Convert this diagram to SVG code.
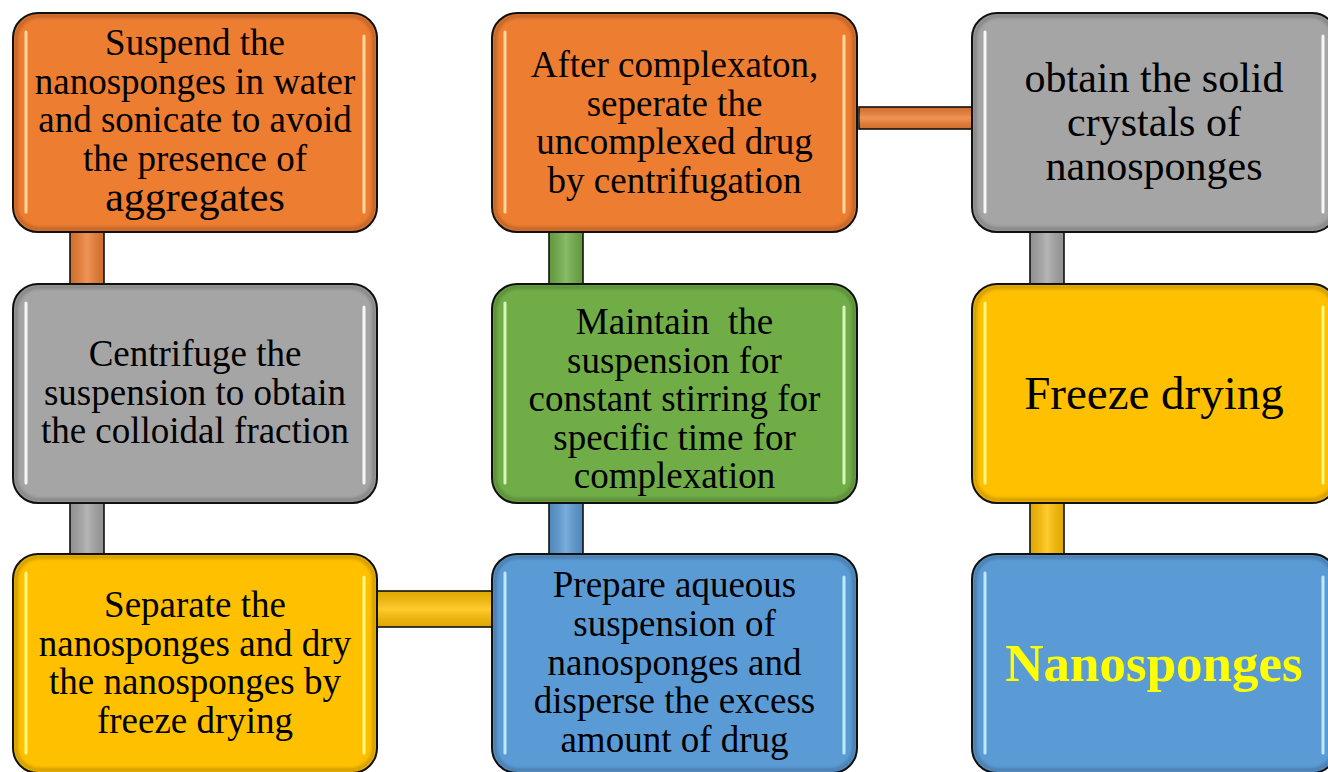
<svg xmlns="http://www.w3.org/2000/svg" width="1328" height="772" viewBox="0 0 1328 772">
<style>
.box{stroke:#111;stroke-width:2}
.edge{fill:none;stroke:#000;stroke-opacity:0.18;stroke-width:4;filter:url(#soft)}
.hl{stroke-width:3;stroke-linecap:round;fill:none;filter:url(#glow);opacity:0.9}
.con{stroke:#111;stroke-width:1.6}
.t{font-family:"Liberation Serif","Times New Roman",serif;font-size:37px;fill:#000;text-anchor:middle}
.pre{white-space:pre}
.t42{font-size:42px}
.t47{font-size:47px}
.big{font-size:53px;font-weight:bold;fill:#FFFF00}
.o{fill:#ED7D31}.g{fill:#A5A5A5}.y{fill:#FFC000}.b{fill:#5B9BD5}.gr{fill:#70AD47}
</style>
<defs>
<filter id="soft" x="-5%" y="-5%" width="110%" height="110%"><feGaussianBlur stdDeviation="1.5"/></filter>
<filter id="glow" x="-50%" y="-5%" width="200%" height="110%"><feGaussianBlur stdDeviation="0.7"/></filter>
<linearGradient id="vshine" x1="0" y1="0" x2="1" y2="0">
<stop offset="0" stop-color="#000" stop-opacity="0.12"/>
<stop offset="0.5" stop-color="#fff" stop-opacity="0.18"/>
<stop offset="1" stop-color="#000" stop-opacity="0.12"/>
</linearGradient>
<linearGradient id="hshine" x1="0" y1="0" x2="0" y2="1">
<stop offset="0" stop-color="#000" stop-opacity="0.12"/>
<stop offset="0.5" stop-color="#fff" stop-opacity="0.18"/>
<stop offset="1" stop-color="#000" stop-opacity="0.12"/>
</linearGradient>
</defs>
<rect width="1328" height="772" fill="#fff"/>

<g id="connectors">
<rect class="con o" x="70" y="226" width="34" height="64"/><rect x="70" y="226" width="34" height="64" fill="url(#vshine)"/>
<rect class="con g" x="70" y="496" width="34" height="64"/><rect x="70" y="496" width="34" height="64" fill="url(#vshine)"/>
<rect class="con y" x="372" y="591" width="125" height="36"/><rect x="372" y="591" width="125" height="36" fill="url(#hshine)"/>
<rect class="con b" x="549" y="496" width="34" height="64"/><rect x="549" y="496" width="34" height="64" fill="url(#vshine)"/>
<rect class="con gr" x="549" y="226" width="34" height="64"/><rect x="549" y="226" width="34" height="64" fill="url(#vshine)"/>
<rect class="con o" x="859" y="107" width="118" height="22"/><rect x="859" y="107" width="118" height="22" fill="url(#hshine)"/>
<rect class="con g" x="1030" y="226" width="34" height="64"/><rect x="1030" y="226" width="34" height="64" fill="url(#vshine)"/>
<rect class="con y" x="1030" y="496" width="34" height="64"/><rect x="1030" y="496" width="34" height="64" fill="url(#vshine)"/>
</g>

<g id="n1">
<rect class="box o" x="13" y="13" width="364" height="219" rx="25"/>
<rect class="edge" x="16" y="16" width="358" height="213" rx="23"/>
<path class="hl" stroke="#FFE2A8" d="M26 32V212M364 36V212"/>
<text class="t"><tspan x="195" y="55">Suspend the</tspan><tspan x="195" y="93.5">nanosponges in water</tspan><tspan x="195" y="132">and sonicate to avoid</tspan><tspan x="195" y="170.5">the presence of</tspan><tspan x="195" y="211" class="t42">aggregates</tspan></text>
</g>

<g id="n2">
<rect class="box g" x="13" y="284" width="364" height="219" rx="25"/>
<rect class="edge" x="16" y="287" width="358" height="213" rx="23"/>
<path class="hl" stroke="#FFFFFF" d="M26 303V483M364 307V483"/>
<text class="t"><tspan x="195" y="366">Centrifuge the</tspan><tspan x="195" y="404.5">suspension to obtain</tspan><tspan x="195" y="443">the colloidal fraction</tspan></text>
</g>

<g id="n3">
<rect class="box y" x="13" y="554" width="364" height="219" rx="25"/>
<rect class="edge" x="16" y="557" width="358" height="213" rx="23"/>
<path class="hl" stroke="#FFFF90" d="M26 573V753M364 577V753"/>
<text class="t"><tspan x="195" y="617">Separate the</tspan><tspan x="195" y="655.5">nanosponges and dry</tspan><tspan x="195" y="694">the nanosponges by</tspan><tspan x="195" y="732.5">freeze drying</tspan></text>
</g>

<g id="n4">
<rect class="box b" x="492" y="554" width="365" height="219" rx="25"/>
<rect class="edge" x="495" y="557" width="359" height="213" rx="23"/>
<path class="hl" stroke="#C8F2FF" d="M505 573V753M844 577V753"/>
<text class="t"><tspan x="674.5" y="597">Prepare aqueous</tspan><tspan x="674.5" y="636">suspension of</tspan><tspan x="674.5" y="674.5">nanosponges and</tspan><tspan x="674.5" y="713">disperse the excess</tspan><tspan x="674.5" y="751.5">amount of drug</tspan></text>
</g>

<g id="n5">
<rect class="box gr" x="492" y="284" width="365" height="219" rx="25"/>
<rect class="edge" x="495" y="287" width="359" height="213" rx="23"/>
<path class="hl" stroke="#E4FFC8" d="M505 303V483M844 307V483"/>
<text class="t pre"><tspan x="674.5" y="334">Maintain  the</tspan><tspan x="674.5" y="372.5">suspension for</tspan><tspan x="674.5" y="411">constant stirring for</tspan><tspan x="674.5" y="449.5">specific time for</tspan><tspan x="674.5" y="488">complexation</tspan></text>
</g>

<g id="n6">
<rect class="box o" x="492" y="13" width="365" height="219" rx="25"/>
<rect class="edge" x="495" y="16" width="359" height="213" rx="23"/>
<path class="hl" stroke="#FFE2A8" d="M505 32V212M844 36V212"/>
<text class="t"><tspan x="674.5" y="77">After complexaton,</tspan><tspan x="674.5" y="115.5">seperate the</tspan><tspan x="674.5" y="154">uncomplexed drug</tspan><tspan x="674.5" y="192.5">by centrifugation</tspan></text>
</g>

<g id="n7">
<rect class="box g" x="972" y="13" width="365" height="219" rx="25"/>
<rect class="edge" x="975" y="16" width="359" height="213" rx="23"/>
<path class="hl" stroke="#FFFFFF" d="M985 32V212M1323 36V212"/>
<text class="t t42"><tspan x="1154" y="92">obtain the solid</tspan><tspan x="1154" y="136">crystals of</tspan><tspan x="1154" y="180">nanosponges</tspan></text>
</g>

<g id="n8">
<rect class="box y" x="972" y="284" width="365" height="219" rx="25"/>
<rect class="edge" x="975" y="287" width="359" height="213" rx="23"/>
<path class="hl" stroke="#FFFF90" d="M985 303V483M1323 307V483"/>
<text class="t t47" x="1154" y="409">Freeze drying</text>
</g>

<g id="n9">
<rect class="box b" x="972" y="554" width="365" height="219" rx="25"/>
<rect class="edge" x="975" y="557" width="359" height="213" rx="23"/>
<path class="hl" stroke="#C8F2FF" d="M985 573V753M1323 577V753"/>
<text class="t big" x="1154" y="681">Nanosponges</text>
</g>
</svg>
